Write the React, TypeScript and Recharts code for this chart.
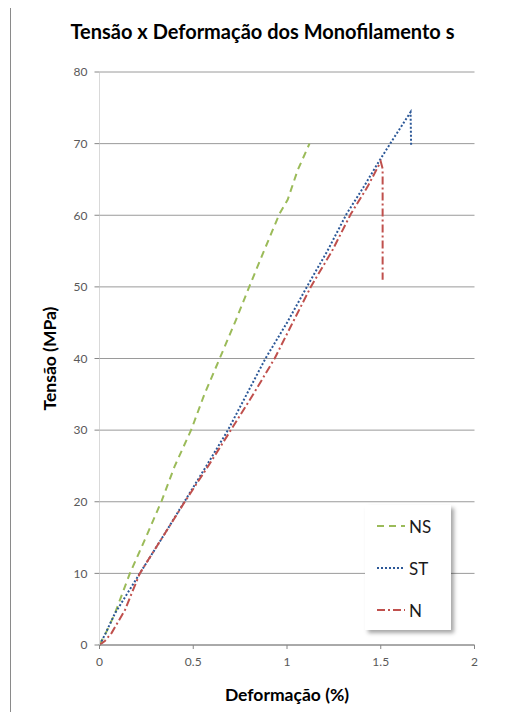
import { LineChart, Line, XAxis, YAxis, CartesianGrid } from "recharts";

const nsStrain = [0, 0.04, 0.082, 0.162, 0.242, 0.331, 0.4, 0.49, 0.561, 0.641, 0.728, 0.8, 0.88, 0.96, 1.004, 1.057, 1.12];
const nsStress = [0, 2, 4.4, 10, 14.7, 20.1, 24.9, 30.1, 35.1, 40, 45.4, 50.1, 55.2, 60.2, 62.2, 66.3, 70];

const stStrain = [0, 0.03, 0.082, 0.215, 0.335, 0.455, 0.57, 0.685, 0.785, 0.885, 1.0, 1.108, 1.215, 1.318, 1.41, 1.49, 1.57, 1.659, 1.662];
const stStress = [0, 1.5, 4.4, 10, 15, 20.1, 25, 30, 35, 40, 45, 50.1, 55, 60.2, 64, 67.5, 70.8, 74.4, 69.8];

const nStrain = [0, 0.03, 0.065, 0.136, 0.215, 0.335, 0.455, 0.58, 0.703, 0.82, 0.934, 1.03, 1.129, 1.24, 1.341, 1.43, 1.5, 1.51, 1.51];
const nStress = [0, 0.6, 1.7, 4.9, 10, 15, 20, 25, 30.1, 35, 40, 45, 50.1, 55, 60.2, 64, 67.5, 66.5, 51];

const xTicks = [0, 0.5, 1, 1.5, 2];
const yTicks = [0, 10, 20, 30, 40, 50, 60, 70, 80];

const toPoints = (xs: number[], ys: number[]) => xs.map((x, i) => ({ x, y: ys[i] }));

const SERIES = [
  { name: "NS", data: toPoints(nsStrain, nsStress), color: "#9BBB59", dash: "7 5" },
  { name: "ST", data: toPoints(stStrain, stStress), color: "#2B5797", dash: "2 2" },
  { name: "N", data: toPoints(nStrain, nStress), color: "#C0504D", dash: "8 3 2 3" },
];

const FONT = "Lato, 'Open Sans', sans-serif";

function LegendBox() {
  return (
    <div
      style={{
        position: "absolute",
        left: 365,
        top: 505,
        width: 86,
        height: 125,
        background: "#fff",
        boxShadow: "3px 3px 4px rgba(0,0,0,0.35)",
        boxSizing: "border-box",
        fontFamily: FONT,
      }}
    >
      {SERIES.map((s) => (
        <div key={s.name} style={{ display: "flex", alignItems: "center", height: 42 }}>
          <svg width={30} height={10} style={{ marginLeft: 12 }}>
            <line x1={0} y1={5} x2={28} y2={5} stroke={s.color} strokeWidth={2} strokeDasharray={s.dash} />
          </svg>
          <span style={{ fontSize: 17, color: "#1a1a1a", marginLeft: 2 }}>{s.name}</span>
        </div>
      ))}
    </div>
  );
}

export default function App() {
  return (
    <div style={{ position: "relative", width: 505, height: 720, margin: -8, overflow: "hidden", background: "#fff" }}>
      <div
        style={{
          position: "absolute",
          left: 10,
          top: 6,
          width: 540,
          height: 760,
          border: "1.5px solid #8a8a8a",
        }}
      />
      <div
        style={{
          position: "absolute",
          left: 0,
          width: 525,
          top: 19,
          textAlign: "center",
          fontFamily: FONT,
          fontWeight: 700,
          fontSize: 20,
          color: "#000",
        }}
      >
        Tensão x Deformação dos Monofilamento s
      </div>
      <div style={{ position: "absolute", left: 0, top: 0 }}>
        <LineChart width={505} height={720} margin={{ top: 72, right: 30.5, bottom: 0, left: 0 }}>
          <CartesianGrid horizontal vertical={false} stroke="#9a9a9a" />
          <XAxis
            type="number"
            dataKey="x"
            domain={[0, 2]}
            ticks={xTicks}
            height={75}
            allowDuplicatedCategory={false}
            axisLine={{ stroke: "#868686" }}
            tickLine={{ stroke: "#868686" }}
            tickSize={4}
            tickMargin={8}
            tick={{ fontSize: 12, fill: "#595959", fontFamily: FONT }}
            label={{ value: "Deformação (%)", position: "insideBottom", offset: 19, style: { fontSize: 17.5, fontWeight: 700, fill: "#000", fontFamily: FONT } }}
          />
          <YAxis
            type="number"
            dataKey="y"
            domain={[0, 80]}
            ticks={yTicks}
            width={99.5}
            axisLine={{ stroke: "#d9d9d9" }}
            tickLine={{ stroke: "#868686" }}
            tickSize={5}
            tickMargin={7}
            tick={{ fontSize: 12, fill: "#595959", fontFamily: FONT }}
            label={{ value: "Tensão (MPa)", angle: -90, position: "insideLeft", offset: 50, style: { fontSize: 17.5, fontWeight: 700, fill: "#000", fontFamily: FONT, textAnchor: "middle" } }}
          />
          {SERIES.map((s) => (
            <Line
              key={s.name}
              data={s.data}
              dataKey="y"
              name={s.name}
              type="linear"
              stroke={s.color}
              strokeWidth={2}
              strokeDasharray={s.dash}
              dot={false}
              activeDot={false}
              isAnimationActive={false}
            />
          ))}
        </LineChart>
      </div>
      <LegendBox />
    </div>
  );
}
